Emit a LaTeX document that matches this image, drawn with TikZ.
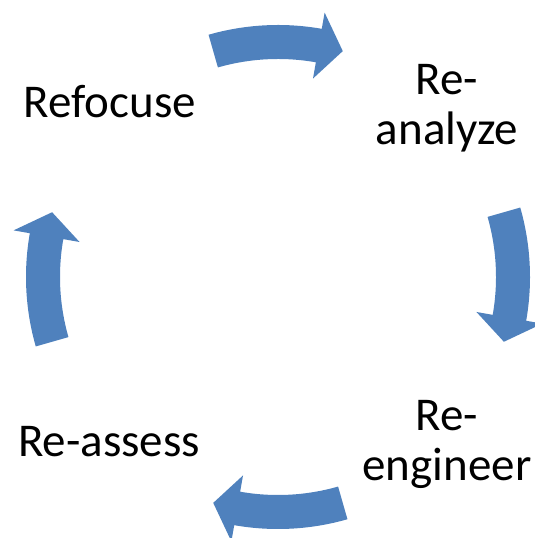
\documentclass[tikz,border=0pt]{standalone}
\usepackage{fontspec}
\setmainfont{Carlito}
\usepackage{xcolor}
\definecolor{CycleBlue}{HTML}{4F81BD}
\tikzset{
  phase/.style={font=\fontsize{47}{50}\selectfont, align=center,
                inner sep=0pt, anchor=base},
  bentfill/.style={fill=CycleBlue, draw=none},
}
% one bent block arrow, centred on angle #1, turning clockwise
\newcommand{\cyclearrow}[1]{%
  \fill[bentfill] (#1+16:252pt) arc[start angle=#1+16, end angle=#1-10, radius=252pt]
    -- (#1-10:268.5pt) -- (#1-16:235pt) -- (#1-10:201.5pt) -- (#1-10:218pt)
    arc[start angle=#1-10, end angle=#1+16, radius=218pt] -- cycle;}

\begin{document}
\begin{tikzpicture}[x=1pt,y=1pt]
  \useasboundingbox (0,0) rectangle (535,538);
  \coordinate (hub) at (278,261);
  \begin{scope}[shift={(hub)}]
    \cyclearrow{90}
    \cyclearrow{0}
    \cyclearrow{-90}
    \cyclearrow{180}
  \end{scope}
  \node[phase] (refocuse) at (110,420) {Refocuse};
  \node[phase] (analyze)  at (447,393) {Re-\\analyze};
  \node[phase] (engineer) at (447,57)  {Re-\\engineer};
  \node[phase] (assess)   at (109,81)  {Re-assess};
\end{tikzpicture}
\end{document}
